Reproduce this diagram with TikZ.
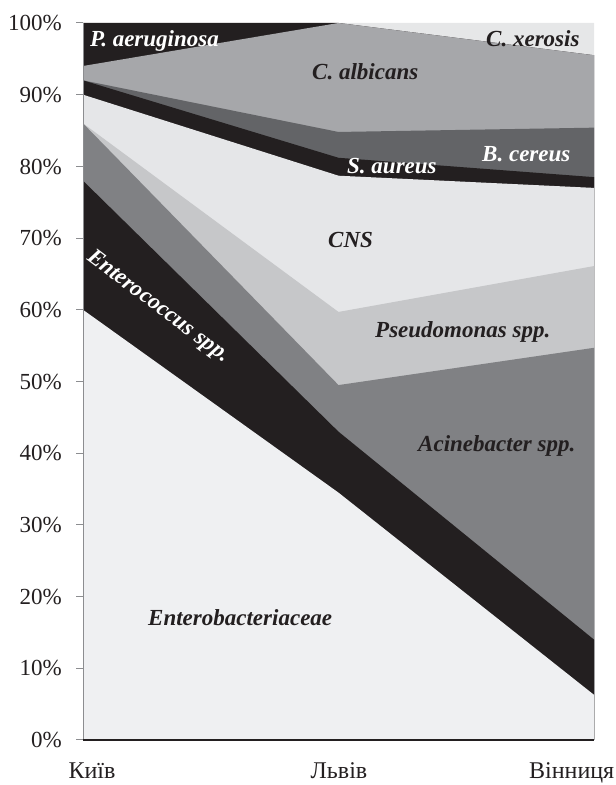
\documentclass[tikz,border=0pt]{standalone}
\usepackage{fontspec}
\setmainfont{Liberation Serif}
\definecolor{enterob}{HTML}{EFF0F2}
\definecolor{blackband}{HTML}{231F20}
\definecolor{acineto}{HTML}{808184}
\definecolor{pseudo}{HTML}{C6C7C9}
\definecolor{cns}{HTML}{E5E6E8}
\definecolor{cereus}{HTML}{636467}
\definecolor{albic}{HTML}{A6A7AA}
\definecolor{xeros}{HTML}{E6E7E8}
\definecolor{axisgray}{HTML}{8C8D90}
\tikzset{
  species/.style={font=\fontsize{23bp}{26bp}\selectfont\bfseries\itshape, inner sep=0pt},
  darklabel/.style={species, text=blackband},
  lightlabel/.style={species, text=white},
  ticklabel/.style={font=\fontsize{23bp}{26bp}\selectfont, inner sep=0pt, anchor=base east, text=blackband},
  citylabel/.style={font=\fontsize{24bp}{27bp}\selectfont, inner sep=0pt, text=blackband},
}
\begin{document}
\begin{tikzpicture}[x=1bp,y=1bp]
\useasboundingbox (0,0) rectangle (616,785);
% stacked areas: each layer is filled from the baseline up to its upper boundary,
% drawn from the top layer down so lower layers cover the rest
\begin{scope}[shift={(83bp,45bp)},x=255.5bp,y=7.17bp]
  \fill[xeros]      (0,0) -- (0,100) -- (1,100) -- (2,100) -- (2,0) -- cycle;
  \fill[blackband]  (0,0) -- (0,100) -- (1,100) -- (2,95.5) -- (2,0) -- cycle;
  \fill[albic]      (0,0) -- (0,94) -- (1,100) -- (2,95.5) -- (2,0) -- cycle;
  \fill[cereus]     (0,0) -- (0,92) -- (1,84.8) -- (2,85.4) -- (2,0) -- cycle;
  \fill[blackband]  (0,0) -- (0,92) -- (1,81.2) -- (2,78.5) -- (2,0) -- cycle;
  \fill[cns]        (0,0) -- (0,90) -- (1,78.7) -- (2,77) -- (2,0) -- cycle;
  \fill[pseudo]     (0,0) -- (0,86) -- (1,59.7) -- (2,66.1) -- (2,0) -- cycle;
  \fill[acineto]    (0,0) -- (0,86) -- (1,49.5) -- (2,54.7) -- (2,0) -- cycle;
  \fill[blackband]  (0,0) -- (0,78) -- (1,43) -- (2,14) -- (2,0) -- cycle;
  \fill[enterob]    (0,0) -- (0,60) -- (1,34.5) -- (2,6.3) -- (2,0) -- cycle;
  % axes
  \draw[axisgray, line width=1bp] (0,0) -- (0,100);
  \foreach \p in {0,10,...,100}
    \draw[axisgray, line width=1bp] (-7bp,\p) -- (0,\p);
  \draw[blackband, line width=1.6bp] (0,0) -- (2,0);
\end{scope}
% tick labels
\foreach \p in {0,10,...,100}
  \node[ticklabel] (t\p) at (62, 45+7.17*\p-7.7) {\p\%};
% category labels
\node[citylabel, anchor=base] (kyiv) at (92,6) {Київ};
\node[citylabel, anchor=base] (lviv) at (339,6) {Львів};
\node[citylabel, anchor=base west] (vinn) at (529,6) {Вінниця};
% species labels
\node[lightlabel, anchor=base west] (paer) at (90,738) {P. aeruginosa};
\node[darklabel, anchor=base west] (calb) at (312,705) {C. albicans};
\node[darklabel, anchor=base west] (cxer) at (486,738) {C. xerosis};
\node[lightlabel, anchor=base west] (bcer) at (482,623) {B. cereus};
\node[lightlabel, anchor=base west] (saur) at (347,611) {S. aureus};
\node[darklabel, anchor=base west] (cns) at (328,537) {CNS};
\node[darklabel, anchor=base west] (pse) at (375,447) {Pseudomonas spp.};
\node[darklabel, anchor=base west] (aci) at (418,333) {Acinebacter spp.};
\node[darklabel, anchor=base west] (ebac) at (148,159) {Enterobacteriaceae};
\node[lightlabel, rotate=-37] (ecoc) at (158,478) {Enterococcus spp.};
\end{tikzpicture}
\end{document}
